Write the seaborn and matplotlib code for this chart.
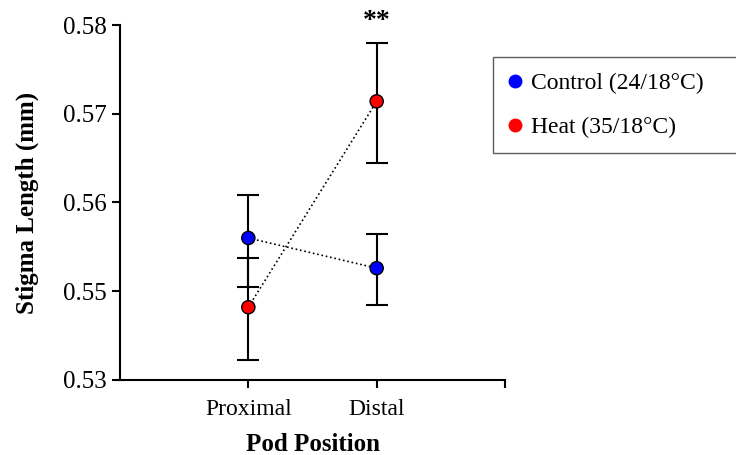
import numpy as np
import pandas as pd
import matplotlib
matplotlib.use("Agg")
import matplotlib.pyplot as plt
from matplotlib.lines import Line2D
import seaborn as sns

# ---- data ----
positions = ["Proximal", "Distal"]
control_mean = [0.5560, 0.5526]
control_lower = [0.5505, 0.5484]
control_upper = [0.5608, 0.5565]
heat_mean = [0.5482, 0.5714]
heat_lower = [0.5423, 0.5645]
heat_upper = [0.5538, 0.5780]
series_labels = ["Control (24/18°C)", "Heat (35/18°C)"]
series_colors = ["#0000FF", "#FF0000"]
ytick_values = [0.54, 0.55, 0.56, 0.57, 0.58]
ytick_labels = ["0.53", "0.55", "0.56", "0.57", "0.58"]

sns.set_style("ticks")
plt.rcParams["font.family"] = ["Liberation Serif", "DejaVu Serif"]
plt.rcParams["text.color"] = "black"
plt.rcParams["xtick.color"] = "black"
plt.rcParams["ytick.color"] = "black"
plt.rcParams["axes.labelcolor"] = "black"

df = pd.DataFrame({
    "position": positions * 2,
    "pos_idx": list(range(len(positions))) * 2,
    "series": [series_labels[0]] * 2 + [series_labels[1]] * 2,
    "mean": control_mean + heat_mean,
    "lower": control_lower + heat_lower,
    "upper": control_upper + heat_upper,
})

fig = plt.figure(figsize=(7.36, 4.55), dpi=100)
ax = fig.add_axes([120 / 736, 1 - 380 / 455, (505 - 120) / 736, (380 - 25) / 455])

# error bars
for lab in series_labels:
    d = df[df["series"] == lab]
    ax.errorbar(d["pos_idx"], d["mean"],
                yerr=[d["mean"] - d["lower"], d["upper"] - d["mean"]],
                fmt="none", ecolor="black", elinewidth=1.5, capsize=8,
                capthick=1.5, zorder=2)

# dotted connecting lines
sns.lineplot(data=df, x="pos_idx", y="mean", units="series", estimator=None,
             color="black", linestyle=":", linewidth=1.2, ax=ax, zorder=3,
             legend=False)

# markers
sns.scatterplot(data=df, x="pos_idx", y="mean", hue="series",
                palette=dict(zip(series_labels, series_colors)),
                s=90, edgecolor="black", linewidth=1.0, ax=ax, zorder=4,
                legend=False)

ax.set_xlim(-1, 2)
ax.set_xticks([0, 1, 2])
ax.set_xticklabels(positions + [""], fontsize=17)
ax.set_ylim(0.54, 0.58)
ax.set_yticks(ytick_values)
ax.set_yticklabels(ytick_labels, fontsize=18)
ax.tick_params(axis="both", direction="out", length=6, width=1.5,
               color="black", labelcolor="black")
ax.tick_params(axis="x", pad=8)
for side in ["left", "bottom"]:
    ax.spines[side].set_linewidth(1.5)
    ax.spines[side].set_color("black")
sns.despine(ax=ax)

ax.set_xlabel("Pod Position", fontsize=18, fontweight="bold", labelpad=9,
              color="black")
ax.set_ylabel("Stigma Length (mm)", fontsize=18, fontweight="bold",
              labelpad=17, color="black")

# significance marker above Distal heat error bar
ax.annotate("**", xy=(1, heat_upper[1]), xytext=(0, 6),
            textcoords="offset points", ha="center", va="bottom",
            fontsize=20, fontweight="bold", color="black",
            annotation_clip=False)

handles = [Line2D([], [], marker="o", linestyle="none", markersize=9,
                  markerfacecolor=c, markeredgecolor=c) for c in series_colors]
leg = fig.legend(handles, series_labels, loc="upper left",
                 bbox_to_anchor=(493 / 736, 1 - 150 / 455, 260 / 736, 93 / 455),
                 bbox_transform=fig.transFigure, mode="expand",
                 frameon=True, fancybox=False, edgecolor="#333333",
                 fontsize=17, handlelength=0.6, handletextpad=0.35,
                 labelspacing=0.95, borderpad=0.65, borderaxespad=0)
leg.get_frame().set_linewidth(1.0)
for t in leg.get_texts():
    t.set_color("black")

fig.savefig("out.png", dpi=100)
